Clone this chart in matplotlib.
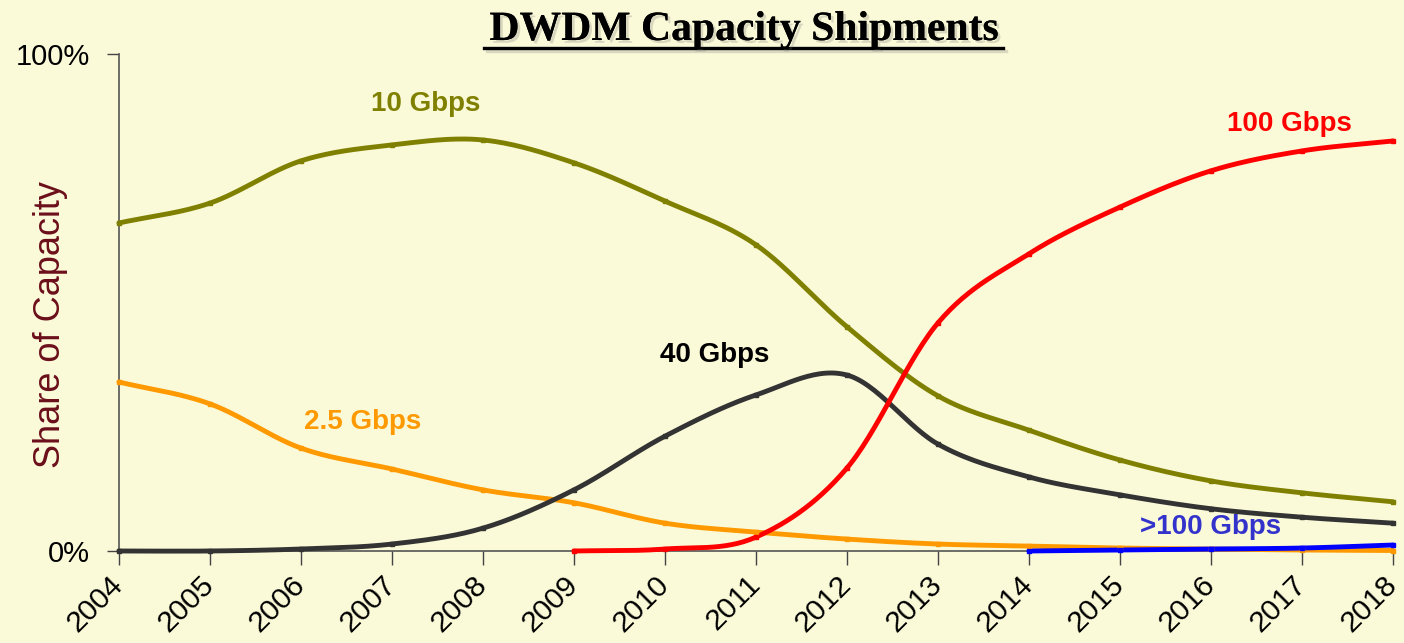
import numpy as np
import matplotlib
matplotlib.use("Agg")
import matplotlib.pyplot as plt
import matplotlib.patheffects as pe
from matplotlib.lines import Line2D

years = list(range(2004, 2019))
year_labels = [str(y) for y in years]

g10 = [66.0, 70.0, 78.5, 81.7, 82.7, 78.1, 70.4, 61.6, 45.1, 31.2, 24.3, 18.3, 14.1, 11.7, 9.9]
g2_5 = [34.0, 29.6, 20.7, 16.5, 12.3, 9.7, 5.6, 3.8, 2.4, 1.4, 1.0, 0.6, 0.4, 0.2, 0.1]
g40 = [0.0, 0.0, 0.4, 1.4, 4.6, 12.3, 23.1, 31.4, 35.4, 21.5, 14.9, 11.3, 8.5, 6.8, 5.6]
years_100 = list(range(2009, 2019))
g100 = [0.0, 0.4, 2.8, 16.7, 45.9, 59.8, 69.2, 76.5, 80.5, 82.5]
years_gt100 = list(range(2014, 2019))
g_gt100 = [0.0, 0.2, 0.4, 0.6, 1.2]

BG = "#FAF9D8"


def smooth(x, y, n=30):
    """Catmull-Rom curve through the data points (like a smoothed line)."""
    x = np.asarray(x, float)
    y = np.asarray(y, float)
    px = np.concatenate([[2 * x[0] - x[1]], x, [2 * x[-1] - x[-2]]])
    py = np.concatenate([[2 * y[0] - y[1]], y, [2 * y[-1] - y[-2]]])
    xs, ys = [], []
    t = np.linspace(0, 1, n, endpoint=False)
    for i in range(1, len(px) - 2):
        p0, p1, p2, p3 = (np.array([px[j], py[j]]) for j in range(i - 1, i + 3))
        tt = t[:, None]
        pts = 0.5 * ((2 * p1) + (-p0 + p2) * tt + (2 * p0 - 5 * p1 + 4 * p2 - p3) * tt ** 2
                     + (-p0 + 3 * p1 - 3 * p2 + p3) * tt ** 3)
        xs.append(pts[:, 0])
        ys.append(pts[:, 1])
    xs.append([x[-1]])
    ys.append([y[-1]])
    return np.concatenate(xs), np.concatenate(ys)


fig = plt.figure(figsize=(14.04, 6.43), dpi=100, facecolor=BG)
ax = fig.add_axes([119 / 1404, 1 - 551 / 643, 1274 / 1404, 497 / 643])
ax.set_facecolor(BG)

series = [
    (years, g2_5, "#FF9900"),
    (years, g10, "#808000"),
    (years, g40, "#333333"),
    (years_100, g100, "#FF0000"),
    (years_gt100, g_gt100, "#0000FF"),
]
for xs, ys, c in series:
    sx, sy = smooth(xs, ys)
    ax.plot(sx, sy, color=c, lw=3.5, solid_capstyle="round", clip_on=False, zorder=3)
    ax.plot(xs, ys, ls="none", marker="s", ms=3.5, color=c, clip_on=False, zorder=4)

ax.set_xlim(2004, 2018)
ax.set_ylim(0, 100)
ax.set_xticks(years)
ax.set_xticklabels(year_labels, rotation=45, ha="right", va="center", rotation_mode="anchor",
                   fontsize=21.5, family="Liberation Sans")
ax.set_yticks([0, 100])
ax.set_yticklabels(["0%", "100%"], fontsize=21, family="Liberation Sans")
ax.tick_params(axis="x", length=10, width=1, color="#444444", pad=11)
ax.tick_params(axis="y", length=9, width=1, color="#444444", pad=12)
for s in ["top", "right"]:
    ax.spines[s].set_visible(False)
for s in ["left", "bottom"]:
    ax.spines[s].set_color("#555555")
    ax.spines[s].set_linewidth(1.2)

ax.set_ylabel("Share of Capacity", fontsize=26, color="#6B0F1A",
              family="Liberation Sans", va="center")
ax.yaxis.set_label_coords(-0.054, 0.456)

lbl = dict(fontsize=20, fontweight="bold", family="Liberation Sans", ha="center", va="center")
ax.text(2007.37, 89.9, "10 Gbps", color="#808000", **lbl)
ax.text(2006.68, 26.0, "2.5 Gbps", color="#FF9900", **lbl)
ax.text(2010.55, 39.4, "40 Gbps", color="#000000", **lbl)
ax.text(2016.86, 85.9, "100 Gbps", color="#FF0000", **lbl)
ax.text(2016.0, 4.8, ">100 Gbps", color="#3333CC", **lbl)

shadow = [pe.withSimplePatchShadow(offset=(2, -2), alpha=0.25, shadow_rgbFace="#777777"), pe.Normal()]
t = fig.text(743.5 / 1404, 1 - 40 / 643, "DWDM Capacity Shipments", ha="center", va="baseline",
             fontsize=30, fontweight="bold", family="Liberation Serif", color="black")
t.set_path_effects(shadow)
ul = Line2D([484 / 1404, 1003 / 1404], [1 - 48 / 643, 1 - 48 / 643], transform=fig.transFigure,
            color="black", lw=2.4)
ul.set_path_effects([pe.SimpleLineShadow(offset=(2, -2), alpha=0.25, shadow_color="#777777"), pe.Normal()])
fig.add_artist(ul)

fig.savefig("out.png", dpi=100, facecolor=BG)
